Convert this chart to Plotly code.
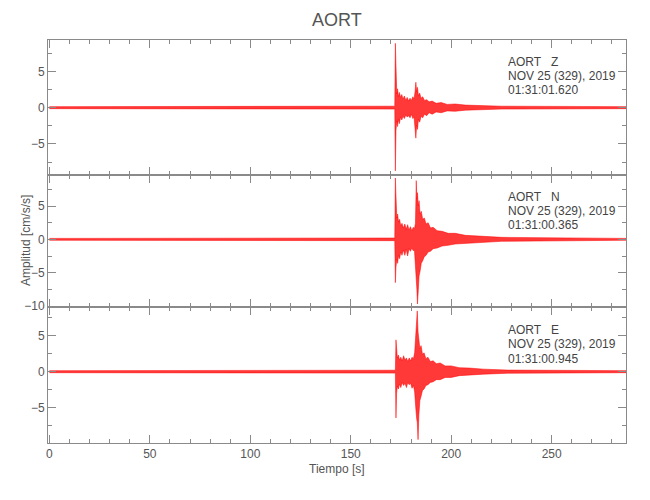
import plotly.graph_objects as go

# ---------------- data (envelopes) ----------------
station = "AORT"
components = ["Z", "N", "E"]
date_label = "NOV 25 (329), 2019"
start_times = ["01:31:01.620", "01:31:00.365", "01:31:00.945"]

z_t = [0, 171.9, 172.2, 172.5, 172.9, 173.3, 173.7, 174.2, 174.8, 175.4, 176.0, 176.7, 177.4, 178.1,
       178.8, 179.5, 180.2, 180.9, 181.5, 182.0, 182.4, 182.8, 183.2, 183.7, 184.3, 185.0, 185.8,
       186.7, 187.8, 189.0, 190.5, 192.5, 195.0, 198.0, 202.0, 207.0, 214.0, 225.0, 287.0]
z_up = [0.14, 0.2, 8.85, 2.8, 1.9, 2.6, 1.5, 2.1, 1.4, 1.8, 1.2, 1.6, 1.0, 1.4,
        0.9, 1.3, 1.0, 1.5, 1.2, 2.2, 3.5, 2.2, 2.8, 1.6, 2.0, 1.3, 1.5,
        1.0, 1.1, 0.8, 0.9, 0.6, 0.7, 0.45, 0.5, 0.35, 0.3, 0.2, 0.14]
z_lo = [-0.14, -0.2, -8.7, -3.2, -1.8, -2.6, -1.6, -2.2, -1.3, -1.7, -1.2, -1.5, -1.0, -1.3,
        -1.1, -1.4, -0.9, -1.5, -1.3, -2.5, -4.2, -2.4, -3.0, -1.6, -2.0, -1.2, -1.4,
        -0.9, -1.1, -0.7, -0.9, -0.6, -0.7, -0.45, -0.5, -0.35, -0.3, -0.2, -0.14]

n_t = [0, 171.9, 172.2, 172.5, 172.9, 173.3, 173.8, 174.3, 174.9, 175.5, 176.2, 176.9, 177.6, 178.3,
       179.0, 179.7, 180.4, 181.1, 181.7, 182.2, 182.6, 182.9, 183.2, 183.6, 184.0, 184.5, 185.1,
       185.8, 186.6, 187.5, 188.5, 189.7, 191.0, 193.0, 195.5, 198.5, 202.0, 207.0, 214.0, 225.0, 287.0]
n_up = [0.14, 0.2, 9.2, 4.5, 3.2, 3.8, 2.6, 3.0, 2.0, 2.4, 1.7, 2.3, 1.5, 2.2,
        1.4, 1.9, 1.3, 1.8, 1.6, 2.4, 8.8, 6.0, 7.0, 5.0, 5.8, 3.8, 4.2,
        3.0, 3.2, 2.3, 2.5, 1.7, 1.8, 1.3, 1.2, 0.9, 0.9, 0.6, 0.45, 0.3, 0.14]
n_lo = [-0.14, -0.2, -6.5, -4.2, -3.0, -3.6, -2.4, -2.9, -1.9, -2.4, -1.6, -2.4, -1.5, -2.5,
        -1.4, -1.8, -1.3, -1.7, -1.6, -2.5, -5.5, -7.5, -9.7, -7.7, -5.5, -4.8, -3.6,
        -3.2, -2.6, -2.4, -1.9, -1.8, -1.4, -1.3, -1.0, -0.9, -0.7, -0.6, -0.45, -0.3, -0.14]

e_t = [0, 172.2, 172.5, 172.8, 173.2, 173.7, 174.3, 174.9, 175.6, 176.3, 177.0, 177.7, 178.4, 179.1,
       179.8, 180.5, 181.2, 181.8, 182.3, 182.8, 183.1, 183.5, 183.9, 184.4, 185.0, 185.7, 186.5,
       187.4, 188.4, 189.6, 191.0, 192.6, 194.5, 197.0, 200.0, 204.0, 209.0, 216.0, 228.0, 287.0]
e_up = [0.14, 0.2, 4.4, 2.6, 1.9, 2.3, 1.6, 2.0, 1.5, 2.2, 1.6, 1.9, 1.4, 1.9,
        1.5, 2.0, 1.8, 2.6, 4.6, 6.0, 8.4, 5.5, 4.6, 3.2, 3.6, 2.4, 2.6,
        1.8, 2.0, 1.4, 1.5, 1.1, 1.2, 0.8, 0.8, 0.55, 0.5, 0.35, 0.22, 0.14]
e_lo = [-0.14, -0.2, -6.4, -3.0, -2.0, -2.4, -1.7, -2.2, -1.5, -1.9, -1.6, -2.2, -1.5, -1.8,
        -1.6, -2.3, -1.9, -2.8, -4.8, -6.5, -7.0, -9.4, -6.0, -4.0, -3.4, -2.6, -2.4,
        -1.9, -1.8, -1.5, -1.4, -1.1, -1.1, -0.8, -0.8, -0.55, -0.5, -0.35, -0.22, -0.14]

x_range = [-0.7, 287.0]
y_ranges = [[-9.27, 9.31], [-10.15, 9.65], [-9.86, 8.94]]

# ---------------- figure ----------------
FONT = "Liberation Sans, Arial, sans-serif"
AX = "#8a8a8a"
TXT = "#555555"

W, H = 650, 500
L, R, T, B = 48, 24, 40, 57
plot_w = W - L - R
plot_h = H - T - B
bounds_px = [(40, 175), (175, 307), (307, 443)]
domains = [[(H - B - b) / plot_h, (H - B - t) / plot_h] for t, b in bounds_px]


def px_x(px):
    return (px - L) / plot_w


def px_y(px):
    return (H - B - px) / plot_h


fig = go.Figure()
series = [(z_t, z_up, z_lo), (n_t, n_up, n_lo), (e_t, e_up, e_lo)]
for i, (t, up, lo) in enumerate(series):
    suffix = "" if i == 0 else str(i + 1)
    fig.add_trace(go.Scatter(
        x=list(t) + list(t)[::-1],
        y=list(up) + list(lo)[::-1],
        fill="toself",
        fillcolor="rgba(255,0,0,0.78)",
        line=dict(color="#ff0000", width=0.5),
        mode="lines",
        hoverinfo="skip",
        showlegend=False,
        xaxis="x" + suffix,
        yaxis="y" + suffix,
    ))

layout = dict(
    width=W, height=H,
    margin=dict(l=L, r=R, t=T, b=B, autoexpand=False),
    paper_bgcolor="white", plot_bgcolor="white",
    font=dict(family=FONT, color=TXT, size=12),
    showlegend=False,
)

for i in range(3):
    suffix = "" if i == 0 else str(i + 1)
    xa = dict(
        domain=[0, 1], range=x_range, anchor="y" + suffix, automargin=False,
        showline=True, linecolor=AX, linewidth=1, mirror="allticks",
        ticks="inside", ticklen=8, tickcolor=AX, tickwidth=1,
        tickmode="linear", tick0=0, dtick=50,
        minor=dict(dtick=10, tick0=0, ticklen=4, ticks="inside", tickcolor=AX),
        showgrid=False, zeroline=False,
        showticklabels=(i == 2),
        tickfont=dict(family=FONT, size=12, color=TXT),
    )
    if i > 0:
        xa["matches"] = "x"
    ya = dict(
        domain=domains[i], range=y_ranges[i], anchor="x" + suffix, automargin=False,
        showline=True, linecolor=AX, linewidth=1, mirror="allticks",
        ticks="inside", ticklen=8, tickcolor=AX, tickwidth=1,
        tickmode="linear", tick0=0, dtick=5,
        minor=dict(dtick=2.5, tick0=0, ticklen=4, ticks="inside", tickcolor=AX),
        showgrid=False, zeroline=False,
        tickfont=dict(family=FONT, size=12, color=TXT),
    )
    layout["xaxis" + suffix] = xa
    layout["yaxis" + suffix] = ya

fig.update_layout(**layout)

# title
fig.add_annotation(text=station, x=px_x(W / 2 + 12), xref="paper", xanchor="center",
                   y=px_y(20), yref="paper", yanchor="middle", showarrow=False,
                   font=dict(family=FONT, size=18, color=TXT))

# axis titles
fig.add_annotation(text="Amplitud [cm/s/s]", textangle=-90,
                   x=px_x(26), xref="paper", xanchor="center",
                   y=px_y(241), yref="paper", yanchor="middle",
                   showarrow=False, font=dict(family=FONT, size=12, color=TXT))
fig.add_annotation(text="Tiempo [s]",
                   x=px_x(337), xref="paper", xanchor="center",
                   y=px_y(469), yref="paper", yanchor="middle",
                   showarrow=False, font=dict(family=FONT, size=12, color=TXT))

# station labels
label_rows_px = [(62, 76, 90), (197, 211, 225), (330, 344, 359)]
for i in range(3):
    lines = [f"{station}   {components[i]}", date_label, start_times[i]]
    for line, ypx in zip(lines, label_rows_px[i]):
        fig.add_annotation(text=line, x=px_x(506), xref="paper", xanchor="left",
                           y=px_y(ypx), yref="paper", yanchor="middle",
                           showarrow=False, font=dict(family=FONT, size=12, color="#444444"))

fig.write_html("out.html", config={"displayModeBar": False},
               post_script="document.body.style.margin='0';document.body.style.overflow='hidden';")
